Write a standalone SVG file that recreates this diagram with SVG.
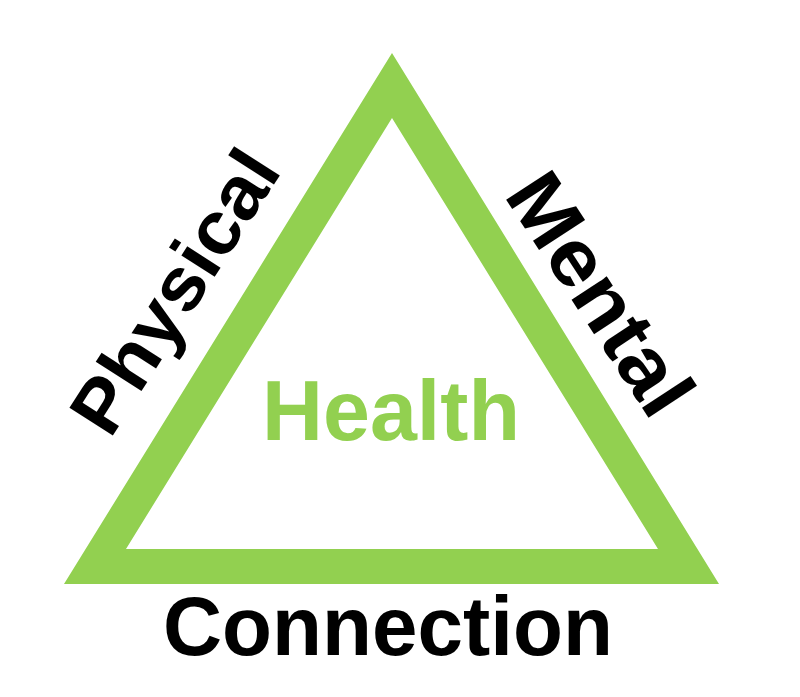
<svg xmlns="http://www.w3.org/2000/svg" width="800" height="697" viewBox="0 0 800 697">
  <style>
    .lbl { font-family: "Liberation Sans", Arial, sans-serif; font-weight: bold; fill: #000000; }
    .center { font-family: "Liberation Sans", Arial, sans-serif; font-weight: bold; fill: #92D050; }
  </style>
  <rect x="0" y="0" width="800" height="697" fill="#ffffff"/>
  <g id="triangle">
    <path d="M392,53 L64,584 L719,584 Z M392,118 L126,549 L658,549 Z" fill="#92D050" fill-rule="evenodd"/>
  </g>
  <g id="connectors"></g>
  <g id="health">
    <text class="center" x="262" y="440" font-size="86" textLength="258" lengthAdjust="spacingAndGlyphs">Health</text>
  </g>
  <g id="physical">
    <text class="lbl" transform="translate(110,440) rotate(-57.3)" x="0" y="0" font-size="75" textLength="320" lengthAdjust="spacingAndGlyphs">Physical</text>
  </g>
  <g id="mental">
    <text class="lbl" transform="translate(503,195) rotate(56.8)" x="0" y="0" font-size="80" textLength="272" lengthAdjust="spacingAndGlyphs">Mental</text>
  </g>
  <g id="connection">
    <text class="lbl" x="163" y="655" font-size="83" textLength="450" lengthAdjust="spacingAndGlyphs">Connection</text>
  </g>
</svg>
